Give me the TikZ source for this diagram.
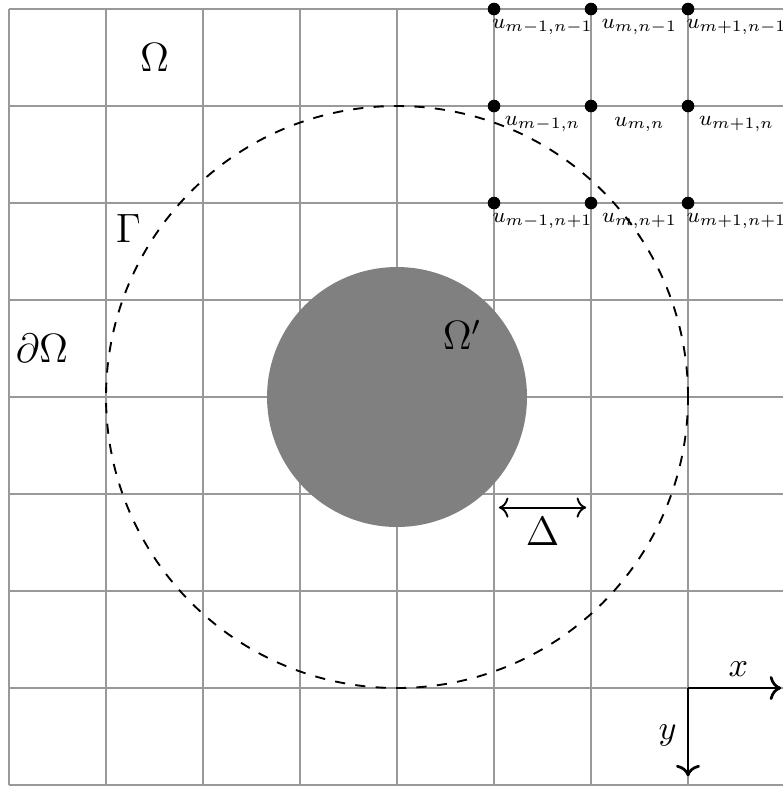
\documentclass[tikz,border=0pt]{standalone}
\usetikzlibrary{arrows.meta}
\definecolor{meshgray}{HTML}{999999}
\definecolor{holegray}{HTML}{808080}
\tikzset{
  meshline/.style={draw=meshgray, line width=.4pt},
  boundary/.style={draw=black, dashed, line width=.55pt},
  regionlabel/.style={font=\large},
  pointlabel/.style={font=\footnotesize, scale=.78},
  axislabel/.style={font=\normalsize},
  meshpoint/.style={fill=black},
  axisarrow/.style={->, line width=.8pt},
  spanarrow/.style={<->, line width=.55pt}
}

\begin{document}
\begin{tikzpicture}[x=1cm,y=1cm]
  % Page frame matches the clipped grid.
  \useasboundingbox (-0.093,-0.041) rectangle (7.969,8.093);
  \draw[meshline, step=1] (0,0) grid (8,8);
  \draw[boundary] (4,4) circle (3);
  \fill[holegray] (4,4) circle (1.34);

  \node[regionlabel] (omega) at (1.5,7.5) {$\Omega$};
  \node[regionlabel] (gamma) at (1.23,5.74) {$\Gamma$};
  \node[regionlabel] (edge) at (0.34,4.5) {$\partial\Omega$};
  \node[regionlabel] (inner) at (4.67,4.64) {$\Omega'$};

  % Stencil points and their values.
  \foreach \i/\mi in {5/m-1,6/m,7/m+1}
    \foreach \j/\nj in {8/n-1,7/n,6/n+1} {
      \fill[meshpoint] (\i,\j) circle (0.065);
      \node[pointlabel] (u\i\j) at (\i+0.5,\j-0.19) {$u_{\mi,\nj}$};
    }

  \coordinate (spanleft) at (5.05,2.86);
  \coordinate (spanright) at (5.95,2.86);
  \draw[spanarrow] (spanleft) -- (spanright);
  \node[regionlabel] (delta) at (5.5,2.61) {$\Delta$};

  \coordinate (origin) at (7,1);
  \coordinate (xend) at (7.96,1);
  \coordinate (yend) at (7,0.09);
  \draw[axisarrow] (origin) -- (xend);
  \draw[axisarrow] (origin) -- (yend);
  \node[axislabel] (xlabel) at (7.52,1.19) {$x$};
  \node[axislabel] (ylabel) at (6.79,0.515) {$y$};
\end{tikzpicture}
\end{document}
